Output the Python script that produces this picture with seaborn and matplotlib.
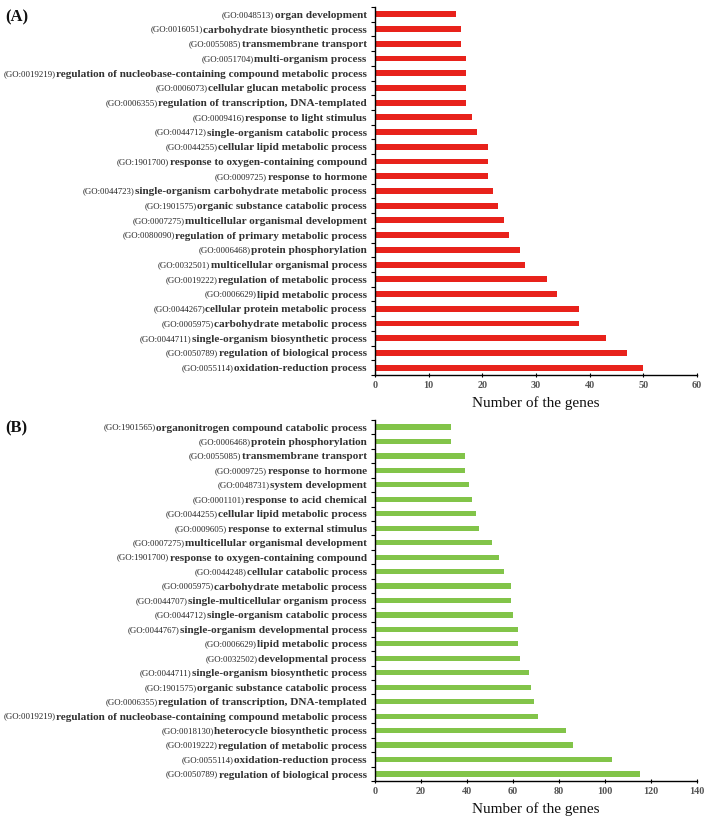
import numpy as np
import pandas as pd
import matplotlib
matplotlib.use("Agg")
import matplotlib.pyplot as plt
import matplotlib.transforms as mtrans
import seaborn as sns

# panel A (top to bottom)
a_ids = ["GO:0048513", "GO:0016051", "GO:0055085", "GO:0051704", "GO:0019219",
         "GO:0006073", "GO:0006355", "GO:0009416", "GO:0044712", "GO:0044255",
         "GO:1901700", "GO:0009725", "GO:0044723", "GO:1901575", "GO:0007275",
         "GO:0080090", "GO:0006468", "GO:0032501", "GO:0019222", "GO:0006629",
         "GO:0044267", "GO:0005975", "GO:0044711", "GO:0050789", "GO:0055114"]
a_terms = ["organ development", "carbohydrate biosynthetic process",
           "transmembrane transport", "multi-organism process",
           "regulation of nucleobase-containing compound metabolic process",
           "cellular glucan metabolic process",
           "regulation of transcription, DNA-templated",
           "response to light stimulus", "single-organism catabolic process",
           "cellular lipid metabolic process",
           "response to oxygen-containing compound", "response to hormone",
           "single-organism carbohydrate metabolic process",
           "organic substance catabolic process",
           "multicellular organismal development",
           "regulation of primary metabolic process", "protein phosphorylation",
           "multicellular organismal process", "regulation of metabolic process",
           "lipid metabolic process", "cellular protein metabolic process",
           "carbohydrate metabolic process",
           "single-organism biosynthetic process",
           "regulation of biological process", "oxidation-reduction process"]
a_counts = [15, 16, 16, 17, 17, 17, 17, 18, 19, 21, 21, 21, 22,
            23, 24, 25, 27, 28, 32, 34, 38, 38, 43, 47, 50]

# panel B (top to bottom)
b_ids = ["GO:1901565", "GO:0006468", "GO:0055085", "GO:0009725", "GO:0048731",
         "GO:0001101", "GO:0044255", "GO:0009605", "GO:0007275", "GO:1901700",
         "GO:0044248", "GO:0005975", "GO:0044707", "GO:0044712", "GO:0044767",
         "GO:0006629", "GO:0032502", "GO:0044711", "GO:1901575", "GO:0006355",
         "GO:0019219", "GO:0018130", "GO:0019222", "GO:0055114", "GO:0050789"]
b_terms = ["organonitrogen compound catabolic process", "protein phosphorylation",
           "transmembrane transport", "response to hormone", "system development",
           "response to acid chemical", "cellular lipid metabolic process",
           "response to external stimulus",
           "multicellular organismal development",
           "response to oxygen-containing compound",
           "cellular catabolic process", "carbohydrate metabolic process",
           "single-multicellular organism process",
           "single-organism catabolic process",
           "single-organism developmental process", "lipid metabolic process",
           "developmental process", "single-organism biosynthetic process",
           "organic substance catabolic process",
           "regulation of transcription, DNA-templated",
           "regulation of nucleobase-containing compound metabolic process",
           "heterocycle biosynthetic process", "regulation of metabolic process",
           "oxidation-reduction process", "regulation of biological process"]
b_counts = [33, 33, 39, 39, 41, 42, 44, 45, 51, 54, 56, 59, 59,
            60, 62, 62, 63, 67, 68, 69, 71, 83, 86, 103, 115]

sns.set_style("white")
plt.rcParams['font.family'] = ['Liberation Serif', 'DejaVu Serif']

fig = plt.figure(figsize=(7.08, 8.22), dpi=100)
ax_a = fig.add_axes([0.5297, 0.5438, 0.4548, 0.4477])
ax_b = fig.add_axes([0.5297, 0.0496, 0.4548, 0.4397])


def panel(ax, ids, terms, counts, color, xmax, step, width):
    df = pd.DataFrame({'term': terms, 'count': counts})
    sns.barplot(data=df, x='count', y='term', orient='h', color=color,
                saturation=1, width=width, ax=ax, linewidth=0)
    n = len(terms)
    ax.set_xlim(0, xmax)
    ax.set_xticks(np.arange(0, xmax + 1, step))
    ax.set_ylim(n - 0.5, -0.5)
    ax.set_yticks(np.arange(-0.5, n, 1), minor=True)
    for s in ['top', 'right']:
        ax.spines[s].set_visible(False)
    for s in ['left', 'bottom']:
        ax.spines[s].set_color('black')
        ax.spines[s].set_linewidth(1.0)
    ax.tick_params(axis='y', which='major', length=0, pad=6)
    ax.tick_params(axis='y', which='minor', left=True, length=3, width=0.8,
                   direction='out', color='black')
    ax.tick_params(axis='x', which='major', bottom=True, length=3, width=0.8,
                   direction='inout', color='black', pad=3)
    for lab in ax.get_yticklabels():
        lab.set_fontweight('bold')
        lab.set_fontsize(8.1)
        lab.set_color('#333333')
    for lab in ax.get_xticklabels():
        lab.set_fontweight('bold')
        lab.set_fontsize(7.3)
        lab.set_color('#555555')
    ax.set_ylabel('')
    ax.set_xlabel('Number of the genes', fontsize=11, color='#111111', labelpad=4)
    ax.grid(False)


panel(ax_a, a_ids, a_terms, a_counts, '#E8221B', 60, 10, 0.40)
panel(ax_b, b_ids, b_terms, b_counts, '#82C449', 140, 20, 0.36)

fig.text(5 / 708, 1 - 9 / 822, '(A)', fontsize=12, fontweight='bold',
         va='top', ha='left', color='#111111')
fig.text(5 / 708, 1 - 420 / 822, '(B)', fontsize=12, fontweight='bold',
         va='top', ha='left', color='#111111')

# GO ids in regular type, placed just left of the bold term labels,
# sitting a touch above their baseline
fig.canvas.draw()
rend = fig.canvas.get_renderer()
pix = mtrans.IdentityTransform()
for ax, ids in [(ax_a, a_ids), (ax_b, b_ids)]:
    for lab, go in zip(ax.get_yticklabels(), ids):
        bb = lab.get_window_extent(rend)
        fp = lab.get_fontproperties()
        d1 = rend.get_text_width_height_descent(lab.get_text(), fp, ismath=False)[2]
        d2 = rend.get_text_width_height_descent("lp", fp, ismath=False)[2]
        fig.text(bb.x0 - 0.5, bb.y0 + max(d1, d2) + 1.0, '(' + go + ')',
                 transform=pix, ha='right', va='baseline', fontsize=6.3,
                 color='#222222')

fig.savefig('out.png', dpi=100)
